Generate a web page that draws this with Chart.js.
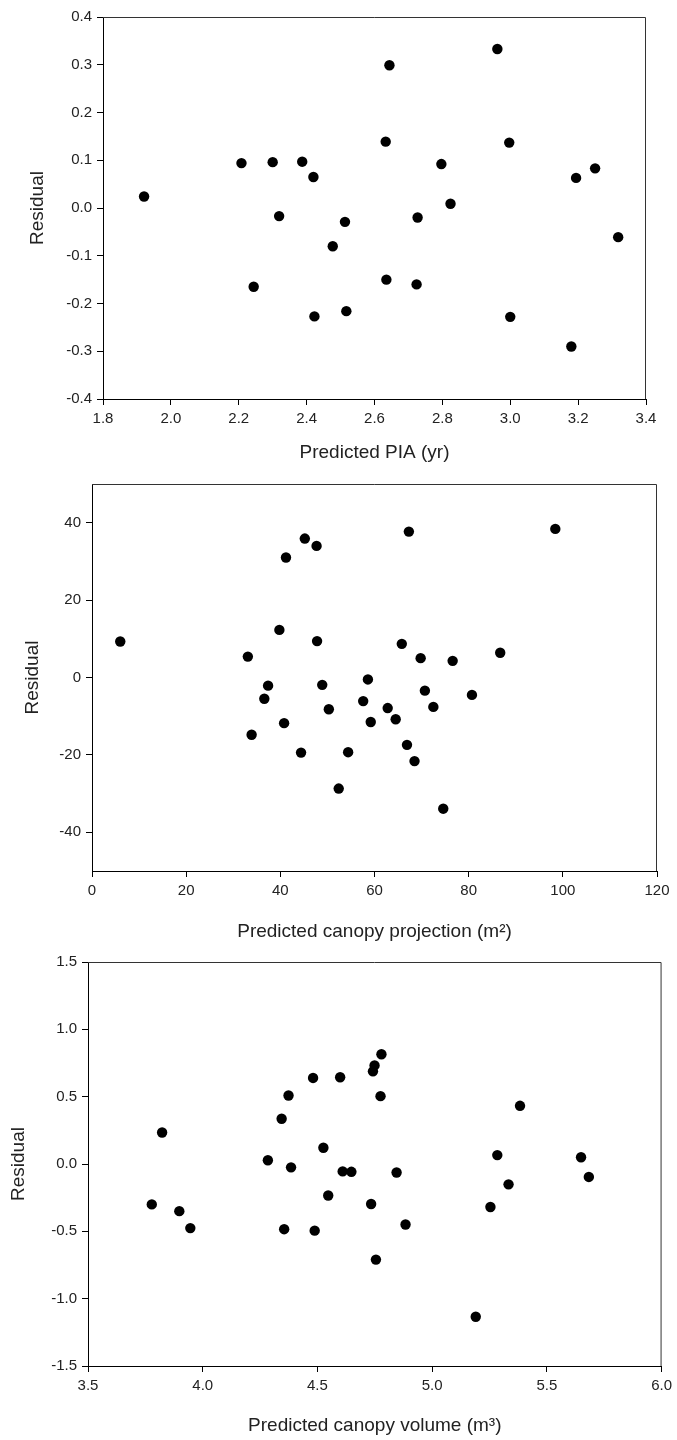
<!DOCTYPE html>
<html>
<head>
<meta charset="utf-8">
<script src="https://cdn.jsdelivr.net/npm/chart.js@4.4.1/dist/chart.umd.min.js"></script>
<style>
  body { margin: 0; background: #fff; }
  .wrap { position: absolute; left: 0; width: 677px; }
</style>
</head>
<body>
<div class="wrap" style="top:0px"><canvas id="c1" width="677" height="470"></canvas></div>
<div class="wrap" style="top:470px"><canvas id="c2" width="677" height="475"></canvas></div>
<div class="wrap" style="top:945px"><canvas id="c3" width="677" height="495"></canvas></div>
<script>
// panel 1 - predicted PIA
const piaX = [1.921, 2.208, 2.300, 2.387, 2.420, 2.244, 2.319, 2.423, 2.477, 2.513, 2.517, 2.633, 2.644,
  2.635, 2.724, 2.727, 2.797, 2.824, 2.962, 2.997, 3.000, 3.180, 3.194, 3.250, 3.318];
const piaResid = [0.024, 0.094, 0.096, 0.097, 0.065, -0.165, -0.017, -0.227, -0.080, -0.029, -0.216, 0.139, 0.299,
  -0.150, -0.160, -0.020, 0.092, 0.009, 0.333, 0.137, -0.228, -0.290, 0.063, 0.083, -0.061];

// panel 2 - predicted canopy projection
const projX = [6.0, 33.1, 33.9, 36.6, 37.4, 39.8, 40.8, 41.2, 44.4, 45.2, 47.7, 47.8, 48.9, 50.3, 52.4, 54.4,
  57.6, 58.6, 59.2, 62.8, 64.5, 65.8, 66.9, 67.3, 68.5, 69.8, 70.7, 72.5, 74.6, 76.6, 80.7, 86.7, 98.4];
const projResid = [9.3, 5.4, -14.8, -5.5, -2.1, 12.3, -11.8, 31.0, -19.4, 35.9, 34.0, 9.4, -1.9, -8.2, -28.7, -19.3,
  -6.1, -0.5, -11.5, -7.9, -10.8, 8.7, -17.4, 37.7, -21.6, 5.0, -3.4, -7.6, -33.9, 4.3, -4.5, 6.4, 38.4];

// panel 3 - predicted canopy volume
const volX = [3.778, 3.823, 3.898, 3.946, 4.284, 4.344, 4.355, 4.374, 4.385, 4.481, 4.488, 4.526, 4.547, 4.599,
  4.610, 4.648, 4.734, 4.742, 4.749, 4.755, 4.775, 4.779, 4.845, 4.884, 5.190, 5.254, 5.284, 5.333, 5.383,
  5.649, 5.683];
const volResid = [-0.300, 0.234, -0.350, -0.476, 0.028, 0.336, -0.484, 0.509, -0.025, 0.639, -0.495, 0.121, -0.234,
  0.644, -0.055, -0.058, -0.297, 0.688, 0.732, -0.710, 0.504, 0.815, -0.063, -0.449, -1.134, -0.319, 0.066,
  -0.151, 0.432, 0.050, -0.096];

const xTitles = ["Predicted PIA (yr)", "Predicted canopy projection (m\u00B2)", "Predicted canopy volume (m\u00B3)"];
const yTitle = "Residual";
const xRanges = [[1.8, 3.4, 0.2], [0, 120, 20], [3.5, 6.0, 0.5]];
const yRanges = [[-0.4, 0.4, 0.1], [-50, 50, 10], [-1.5, 1.5, 0.5]];
const xDecimals = [1, 0, 1];
const yDecimals = [1, 0, 1];

const FONT = "'Liberation Sans', Arial, sans-serif";

// draws the top and right edges of the plot box
const frame = {
  id: "frame",
  afterDraw(chart) {
    const a = chart.chartArea;
    const ctx = chart.ctx;
    ctx.save();
    ctx.strokeStyle = "#333";
    ctx.lineWidth = 1;
    ctx.beginPath();
    ctx.moveTo(a.left, a.top + 0.5);
    ctx.lineTo(a.right - 0.5, a.top + 0.5);
    ctx.lineTo(a.right - 0.5, a.bottom);
    ctx.stroke();
    ctx.restore();
  }
};

function toPoints(xs, ys) {
  var pts = [];
  for (var i = 0; i < xs.length; i++) {
    pts.push({ x: xs[i], y: ys[i] });
  }
  return pts;
}

// layout of each panel, in canvas pixels
const layouts = [
  { top: 17, right: 31, yWidth: 103, xHeight: 71, yTitlePad: 26, xTitlePad: 5.6 },
  { top: 4, right: 20, yWidth: 92, xHeight: 74, yTitlePad: 21, xTitlePad: 1.6 },
  { top: 17, right: 14, yWidth: 88, xHeight: 74, yTitlePad: 7, xTitlePad: 2.6 }
];

const panels = [
  [piaX, piaResid],
  [projX, projResid],
  [volX, volResid]
];

panels.forEach(function (p, i) {
  const L = layouts[i];
  const ctx = document.getElementById("c" + (i + 1)).getContext("2d");
  new Chart(ctx, {
    type: "scatter",
    data: {
      datasets: [{
        data: toPoints(p[0], p[1]),
        backgroundColor: "#000",
        borderWidth: 0,
        pointRadius: 5.2,
        clip: false
      }]
    },
    options: {
      responsive: false,
      animation: false,
      layout: { padding: { top: L.top, right: L.right, bottom: 0, left: 0 } },
      plugins: { legend: { display: false }, tooltip: { enabled: false } },
      scales: {
        x: {
          type: "linear",
          min: xRanges[i][0],
          max: xRanges[i][1],
          ticks: {
            stepSize: xRanges[i][2],
            color: "#222",
            padding: 5,
            maxRotation: 0,
            font: { family: FONT, size: 15 },
            callback: function (v) { return Number(v).toFixed(xDecimals[i]); }
          },
          grid: { drawOnChartArea: false, drawTicks: true, tickLength: 6, color: "#000" },
          border: { display: true, color: "#000", width: 1 },
          title: {
            display: true,
            text: xTitles[i],
            color: "#222",
            font: { family: FONT, size: 19 },
            padding: { top: 0, bottom: L.xTitlePad }
          },
          afterFit: function (s) { s.height = L.xHeight; }
        },
        y: {
          type: "linear",
          min: yRanges[i][0],
          max: yRanges[i][1],
          ticks: {
            stepSize: yRanges[i][2],
            color: "#222",
            padding: 5,
            font: { family: FONT, size: 15 },
            callback: function (v) { return Number(v).toFixed(yDecimals[i]); }
          },
          afterBuildTicks: function (s) {
            if (i === 1) {
              s.ticks = s.ticks.filter(function (t) {
                return Math.round(t.value) % 20 === 0 && Math.abs(t.value) < 45;
              });
            }
          },
          grid: { drawOnChartArea: false, drawTicks: true, tickLength: 6, color: "#000" },
          border: { display: true, color: "#000", width: 1 },
          title: {
            display: true,
            text: yTitle,
            color: "#222",
            font: { family: FONT, size: 19 },
            padding: { top: L.yTitlePad, bottom: 0 }
          },
          afterFit: function (s) { s.width = L.yWidth; }
        }
      }
    },
    plugins: [frame]
  });
});
</script>
</body>
</html>
